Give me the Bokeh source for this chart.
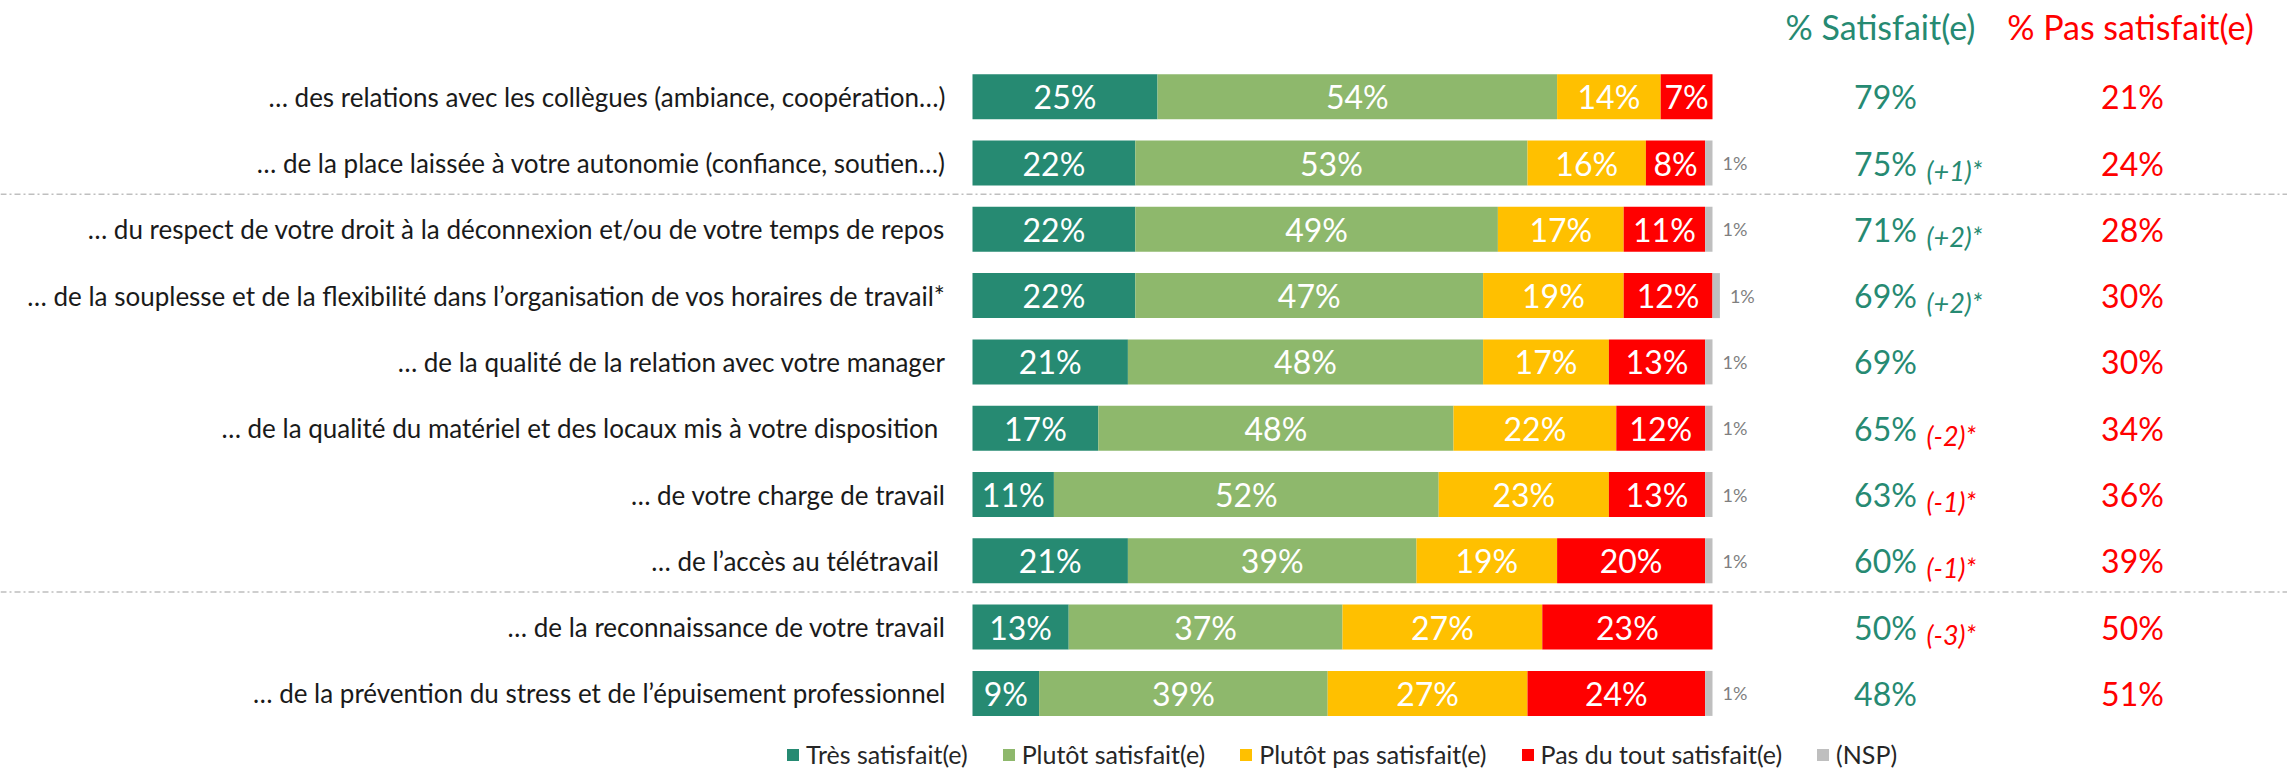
from bokeh.plotting import figure
from bokeh.models import ColumnDataSource, Range1d, Legend, LegendItem, Span
from bokeh.core.properties import value
from bokeh.embed import file_html
from bokeh.resources import INLINE

# ---------------- data ----------------
items = [
    "… des relations avec les collègues (ambiance, coopération…)",
    "… de la place laissée à votre autonomie (confiance, soutien…)",
    "… du respect de votre droit à la déconnexion et/ou de votre temps de repos",
    "… de la souplesse et de la flexibilité dans l’organisation de vos horaires de travail*",
    "… de la qualité de la relation avec votre manager",
    "… de la qualité du matériel et des locaux mis à votre disposition\u00a0",
    "… de votre charge de travail",
    "… de l’accès au télétravail\u00a0",
    "… de la reconnaissance de votre travail",
    "… de la prévention du stress et de l’épuisement professionnel",
]
series = ["Très satisfait(e)", "Plutôt satisfait(e)", "Plutôt pas satisfait(e)",
          "Pas du tout satisfait(e)", "(NSP)"]
tres = [25, 22, 22, 22, 21, 17, 11, 21, 13, 9]
plutot = [54, 53, 49, 47, 48, 48, 52, 39, 37, 39]
plutot_pas = [14, 16, 17, 19, 17, 22, 23, 19, 27, 27]
pas_du_tout = [7, 8, 11, 12, 13, 12, 13, 20, 23, 24]
nsp = [0, 1, 1, 1, 1, 1, 1, 1, 0, 1]
satisfait = [79, 75, 71, 69, 69, 65, 63, 60, 50, 48]
pas_satisfait = [21, 24, 28, 30, 30, 34, 36, 39, 50, 51]
evolution = ["", "(+1)*", "(+2)*", "(+2)*", "", "(-2)*", "(-1)*", "(-1)*", "(-3)*", ""]
titles = ["% Satisfait(e)", "% Pas satisfait(e)"]

colors = ["#268A72", "#8EB86C", "#FFC000", "#FF0000", "#BFBFBF"]
GREEN = "#268A72"
RED = "#FF0000"
FONT = "Lato"

# ---------------- layout (pixels) ----------------
W, H = 2287, 769
X0_PX = 972.0        # 0 %
PX_PER_PCT = 7.40
Y0_PX = 96.2         # centre of first row
ROW_PX = 66.3


def px2x(px):
    return (px - X0_PX) / PX_PER_PCT


def px2y(py):
    return (py - Y0_PX) / ROW_PX


rows = list(range(len(items)))

p = figure(width=W, height=H, output_backend="svg", toolbar_location=None,
           x_range=Range1d(px2x(0), px2x(W)),
           y_range=Range1d(px2y(H), px2y(0)),
           x_axis_type=None, y_axis_type=None, min_border=0,
           outline_line_color=None)
p.background_fill_color = "white"

keys = ["tres", "plutot", "plutot_pas", "pas_du_tout", "nsp"]
src = ColumnDataSource(dict(row=rows, tres=tres, plutot=plutot, plutot_pas=plutot_pas,
                            pas_du_tout=pas_du_tout, nsp=nsp))
renderers = p.hbar_stack(keys, y="row", height=45 / ROW_PX, color=colors,
                         line_color=None, source=src)

# in-bar labels
lx, ly, lt = [], [], []
for i in rows:
    left = 0
    for vals in (tres, plutot, plutot_pas, pas_du_tout):
        v = vals[i]
        if v > 0:
            lx.append(left + v / 2)
            ly.append(i)
            lt.append(f"{v}%")
        left += v
p.text(x=lx, y=ly, text=lt, text_align="center", text_baseline="middle",
       text_color="white", text_font=value(FONT), text_font_size="32px")

# NSP labels outside
nx, ny, nt = [], [], []
for i in rows:
    if nsp[i] > 0:
        nx.append(tres[i] + plutot[i] + plutot_pas[i] + pas_du_tout[i] + nsp[i])
        ny.append(i)
        nt.append(f"{nsp[i]}%")
p.text(x=nx, y=ny, text=nt, x_offset=10, text_align="left", text_baseline="middle",
       text_color="#7F7F7F", text_font=value(FONT), text_font_size="18px")

# row labels
p.text(x=[px2x(945)] * len(rows), y=rows, text=items, text_align="right",
       text_baseline="middle", text_color="#1A1A1A", text_font=value(FONT),
       text_font_size="26px")

# right columns
p.text(x=[px2x(1885)] * len(rows), y=rows, text=[f"{v}%" for v in satisfait],
       text_align="center", text_baseline="middle", text_color=GREEN,
       text_font=value(FONT), text_font_size="32px")
p.text(x=[px2x(2132)] * len(rows), y=rows, text=[f"{v}%" for v in pas_satisfait],
       text_align="center", text_baseline="middle", text_color=RED,
       text_font=value(FONT), text_font_size="32px")
evo_col = [GREEN if e.startswith("(+") else RED for e in evolution]
p.text(x=[px2x(1926)] * len(rows), y=rows, text=evolution, y_offset=7,
       text_align="left", text_baseline="middle", text_color=evo_col,
       text_font=value(FONT), text_font_style="italic", text_font_size="27px")

# column titles
p.text(x=[px2x(1880), px2x(2130)], y=[px2y(26)] * 2, text=titles,
       text_align="center", text_baseline="middle", text_color=[GREEN, RED],
       text_font=value(FONT), text_font_size="34px")

# separators
for yy in (1.47, 7.47):
    p.add_layout(Span(location=yy, dimension="width", line_color="#BFBFBF",
                      line_width=1.5, line_dash="6 3 2 3"))

legend = Legend(items=[LegendItem(label=s, renderers=[r]) for s, r in zip(series, renderers)],
                orientation="horizontal", location=(785, 0),
                glyph_width=15, glyph_height=15, label_standoff=6, spacing=33,
                padding=0, margin=0, border_line_alpha=0, background_fill_alpha=0,
                label_text_font=FONT, label_text_font_size="25px",
                label_text_color="#262626", label_height=25)
p.add_layout(legend)

open("out.html", "w").write(file_html(p, INLINE))
